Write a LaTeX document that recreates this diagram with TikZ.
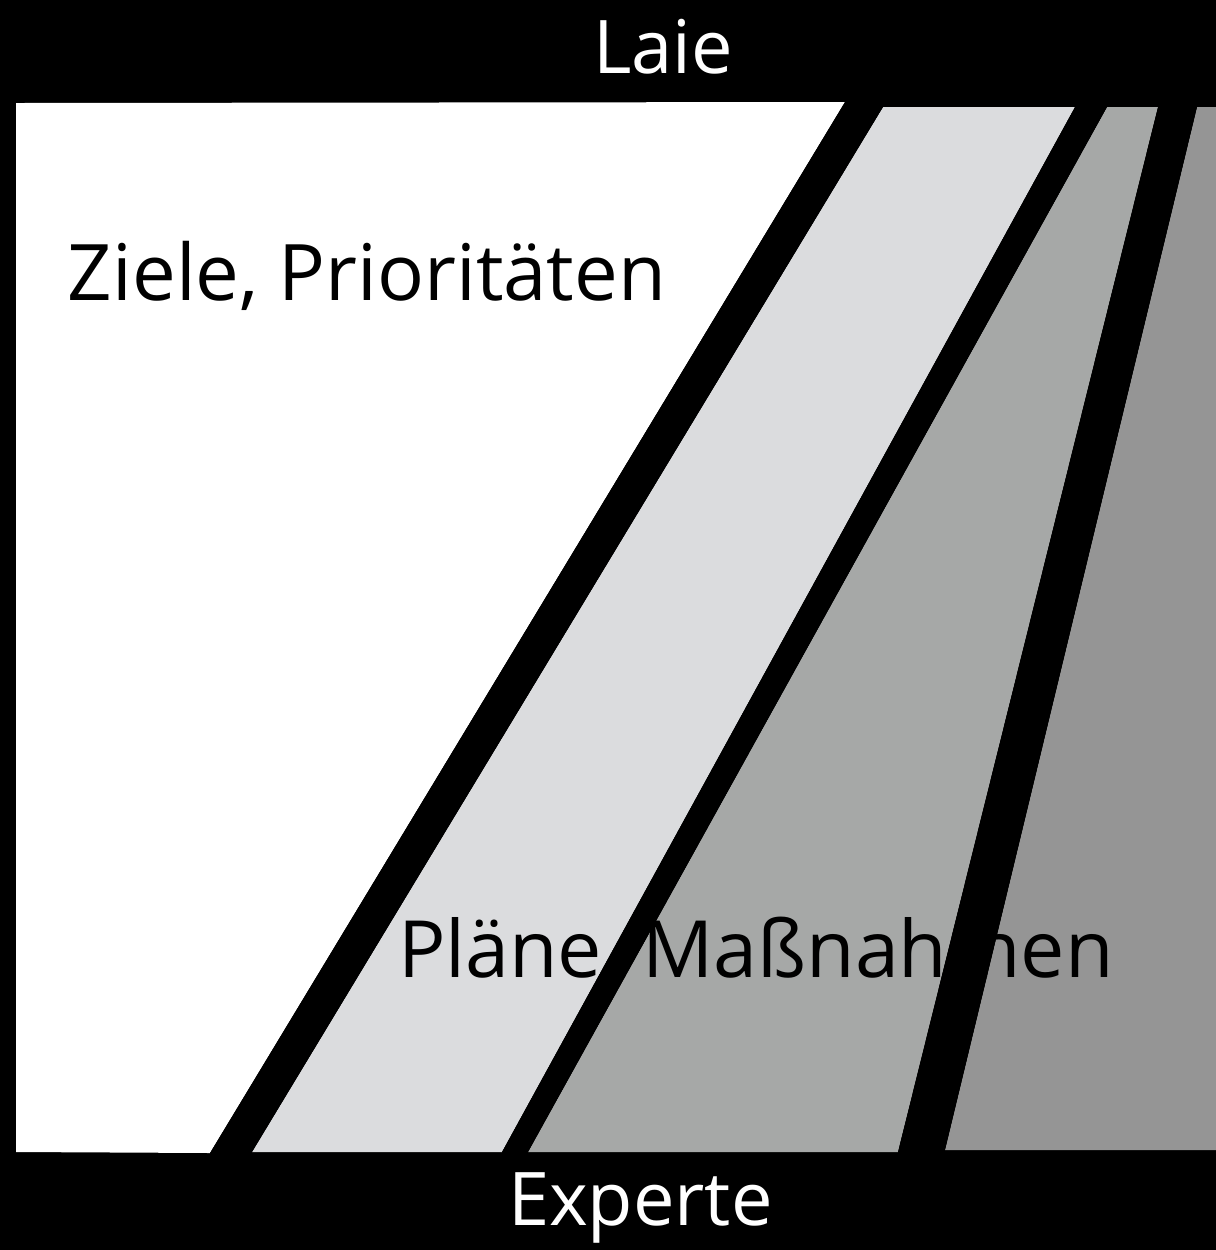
\documentclass[tikz,border=0pt]{standalone}
\usepackage{fontspec}
\setmainfont{Open Sans}
\definecolor{lightband}{HTML}{DBDCDE}
\definecolor{midband}{HTML}{A6A8A7}
\definecolor{darkband}{HTML}{959595}
\begin{document}
\begin{tikzpicture}[x=0.5pt,y=-0.5pt,
  band/.style={draw=none},
  sep/.style={fill=black,draw=none},
  lbl/.style={anchor=base west,inner sep=0pt,outer sep=0pt}]
\useasboundingbox (0,0) rectangle (1216,1250);
\fill[black] (0,0) rectangle (1216,1250);
% bands
\fill[white] (16,103) -- (845,102) -- (210,1153) -- (16,1152) -- cycle;
\fill[lightband] (883,107) -- (1075,107) -- (502,1152) -- (252,1152) -- cycle;
\fill[midband] (1107,107) -- (1158,107) -- (898,1152) -- (528,1152) -- cycle;
\fill[darkband] (1197,107) -- (1216,107) -- (1216,1150) -- (945,1150) -- cycle;
% texts
\node[lbl,text=black,font=\fontsize{39}{42}\selectfont] (ziele) at (68,300) {Ziele, Prioritäten};
\node[lbl,text=black,font=\fontsize{39.5}{44}\selectfont] (plaene) at (398,977) {Pläne, Maßnahmen};
\node[lbl,text=white,font=\fontsize{37}{42}\selectfont] (laie) at (593,73) {Laie};
\node[lbl,text=white,font=\fontsize{37}{40}\selectfont] (experte) at (508,1225) {Experte};
% black separators drawn over the text
\fill[sep] (845,102) -- (883,107) -- (252,1152) -- (210,1153) -- cycle;
\fill[sep] (1075,107) -- (1107,107) -- (528,1152) -- (502,1152) -- cycle;
\fill[sep] (1158,107) -- (1197,107) -- (945,1150) -- (898,1152) -- cycle;
\end{tikzpicture}
\end{document}
